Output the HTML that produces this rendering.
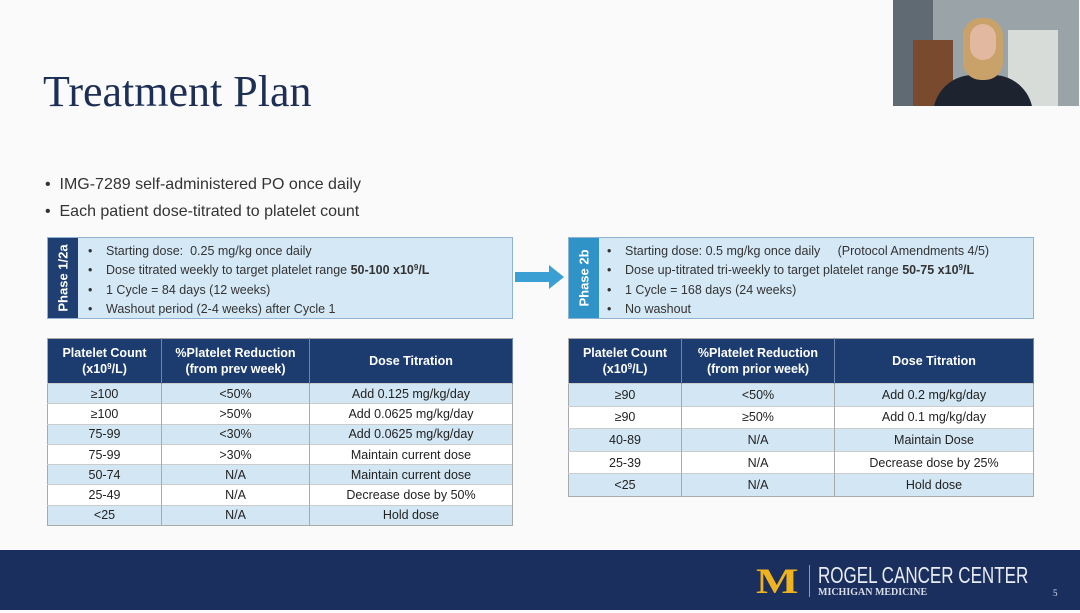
<!DOCTYPE html>
<html><head><meta charset="utf-8"><style>
*{margin:0;padding:0;box-sizing:border-box}
body{width:1080px;height:613px;background:#fafafa;position:relative;overflow:hidden;font-family:"Liberation Sans",sans-serif;color:#333}
.abs{position:absolute}
sup{font-size:8px;line-height:0;vertical-align:4px}
.title{left:43px;top:66px;font-family:"Liberation Serif",serif;font-size:44px;color:#1d2f55}
.bul{left:45px;font-size:16px;color:#333}
.box{background:#d5e8f6;border:1px solid #8fb3d0;height:82px;top:237px}
.strip{position:absolute;left:0;top:0;bottom:0;width:30px}
.strip span{position:absolute;left:50%;top:50%;transform:translate(-50%,-50%) rotate(-90deg);color:#fff;font-weight:bold;font-size:13px;white-space:nowrap}
.box ul{position:absolute;left:40px;top:4px;list-style:none;font-size:12.5px;color:#333}
.box li{height:19.3px;line-height:19.3px}
.box li:before{content:"•";display:inline-block;width:18px}
table{position:absolute;border-collapse:collapse;font-size:12.5px;text-align:center;color:#222}
th{background:#1c3c70;color:#fff;font-weight:bold;font-size:12.5px;line-height:16px;height:45px;border-right:1px solid #6a86b0}
td{border-right:1px solid #aaa;border-top:1px solid #ccc}
tr.a td{background:#d2e6f3}
tr.b td{background:#fff}
</style></head><body>
<div class="abs title">Treatment Plan</div>
<div class="abs bul" style="top:176px">•&nbsp;&nbsp;IMG-7289 self-administered PO once daily</div>
<div class="abs bul" style="top:203px">•&nbsp;&nbsp;Each patient dose-titrated to platelet count</div>

<div class="abs box" style="left:47px;width:466px">
<div class="strip" style="background:#1f3f73"><span>Phase 1/2a</span></div>
<ul><li>Starting dose:&nbsp; 0.25 mg/kg once daily</li>
<li>Dose titrated weekly to target platelet range <b>50-100 x10<sup>9</sup>/L</b></li>
<li>1 Cycle = 84 days (12 weeks)</li>
<li>Washout period (2-4 weeks) after Cycle 1</li></ul></div>

<svg class="abs" style="left:515px;top:264px" width="50" height="26"><polygon points="0,8 34,8 34,1 49,13 34,25 34,18 0,18" fill="#3a9fd2"/></svg>

<div class="abs box" style="left:568px;width:466px">
<div class="strip" style="background:#2f93c8"><span>Phase 2b</span></div>
<ul style="left:38px"><li>Starting dose: 0.5 mg/kg once daily &nbsp;&nbsp;&nbsp;&nbsp;(Protocol Amendments 4/5)</li>
<li>Dose up-titrated tri-weekly to target platelet range <b>50-75 x10<sup>9</sup>/L</b></li>
<li>1 Cycle = 168 days (24 weeks)</li>
<li>No washout</li></ul></div>

<table style="left:47px;top:338px;width:466px;border:1px solid #aaa">
<tr><th style="width:114px">Platelet Count<br>(x10<sup>9</sup>/L)</th><th style="width:148px">%Platelet Reduction<br>(from prev week)</th><th>Dose Titration</th></tr>
<tr class="a" style="height:20.3px"><td>≥100</td><td>&lt;50%</td><td>Add 0.125 mg/kg/day</td></tr>
<tr class="b" style="height:20.3px"><td>≥100</td><td>&gt;50%</td><td>Add 0.0625 mg/kg/day</td></tr>
<tr class="a" style="height:20.3px"><td>75-99</td><td>&lt;30%</td><td>Add 0.0625 mg/kg/day</td></tr>
<tr class="b" style="height:20.3px"><td>75-99</td><td>&gt;30%</td><td>Maintain current dose</td></tr>
<tr class="a" style="height:20.3px"><td>50-74</td><td>N/A</td><td>Maintain current dose</td></tr>
<tr class="b" style="height:20.3px"><td>25-49</td><td>N/A</td><td>Decrease dose by 50%</td></tr>
<tr class="a" style="height:20.3px"><td>&lt;25</td><td>N/A</td><td>Hold dose</td></tr>
</table>

<table style="left:568px;top:338px;width:466px;border:1px solid #aaa">
<tr><th style="width:113px">Platelet Count<br>(x10<sup>9</sup>/L)</th><th style="width:153px">%Platelet Reduction<br>(from prior week)</th><th>Dose Titration</th></tr>
<tr class="a" style="height:22.6px"><td>≥90</td><td>&lt;50%</td><td>Add 0.2 mg/kg/day</td></tr>
<tr class="b" style="height:22.6px"><td>≥90</td><td>≥50%</td><td>Add 0.1 mg/kg/day</td></tr>
<tr class="a" style="height:22.6px"><td>40-89</td><td>N/A</td><td>Maintain Dose</td></tr>
<tr class="b" style="height:22.6px"><td>25-39</td><td>N/A</td><td>Decrease dose by 25%</td></tr>
<tr class="a" style="height:22.6px"><td>&lt;25</td><td>N/A</td><td>Hold dose</td></tr>
</table>

<div class="abs" style="left:0;top:550px;width:1080px;height:60px;background:#1b2f5f"></div>
<div class="abs" style="left:756px;top:565px;font-family:'Liberation Serif',serif;font-weight:bold;font-size:36px;line-height:32px;color:#f0b320;transform:scaleX(1.25);transform-origin:left">M</div>
<div class="abs" style="left:809px;top:565px;width:1px;height:32px;background:#8a9ab8"></div>
<div class="abs" style="left:818px;top:562px;font-size:23px;color:#e8ecf4;transform:scaleX(0.74);transform-origin:left;white-space:nowrap">ROGEL CANCER CENTER</div>
<div class="abs" style="left:818px;top:587px;font-family:'Liberation Serif',serif;font-weight:bold;font-size:10px;color:#d8dde8">MICHIGAN MEDICINE</div>
<div class="abs" style="left:1053px;top:588px;font-family:'Liberation Serif',serif;font-size:9px;color:#d8dde8">5</div>

<div class="abs" style="left:893px;top:0;width:186px;height:106px;background:#9aa4a8;overflow:hidden">
<div class="abs" style="left:0;top:0;width:40px;height:106px;background:#5f6a72"></div>
<div class="abs" style="left:20px;top:40px;width:40px;height:66px;background:#7a4a2e"></div>
<div class="abs" style="left:115px;top:30px;width:50px;height:76px;background:#d8dcd8"></div>
<div class="abs" style="left:40px;top:75px;width:100px;height:40px;border-radius:40px 40px 0 0;background:#1e2330"></div>
<div class="abs" style="left:70px;top:18px;width:40px;height:62px;border-radius:18px;background:#c9a26a"></div>
<div class="abs" style="left:77px;top:24px;width:26px;height:36px;border-radius:13px;background:#e2b8a0"></div>
</div>
</body></html>
